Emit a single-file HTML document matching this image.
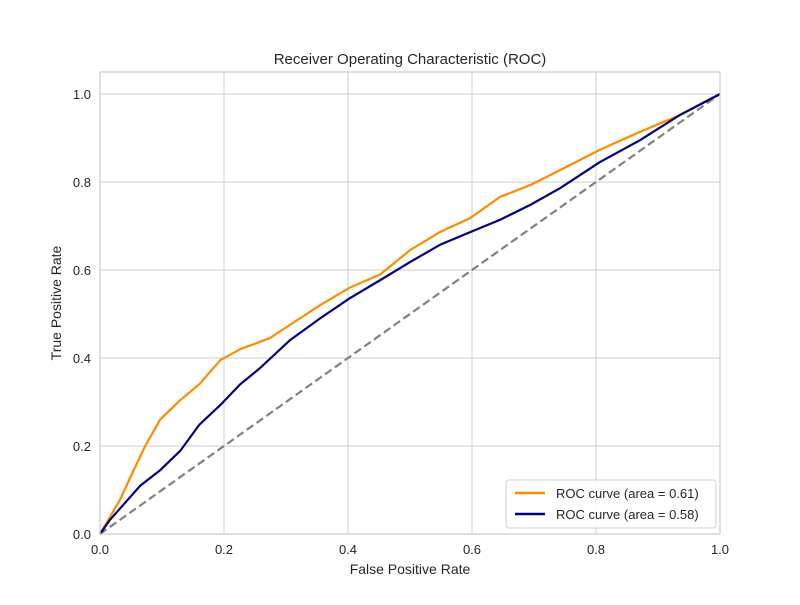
<!DOCTYPE html>
<html><head><meta charset="utf-8"><style>
body{margin:0;background:#fff;}
svg text{font-family:"Liberation Sans",Arial,sans-serif;fill:#262626;}
</style></head><body>
<svg width="800" height="600" xmlns="http://www.w3.org/2000/svg">
<rect x="0" y="0" width="800" height="600" fill="#fff"/>
<g id="grid"></g>
<g id="series"></g>
<rect x="100" y="72" width="620" height="462" fill="none" stroke="#cccccc" stroke-width="1.2"/>
<g id="ticks"></g>
<text x="410" y="64" font-size="15" text-anchor="middle">Receiver Operating Characteristic (ROC)</text>
<text x="410" y="574" font-size="14" text-anchor="middle">False Positive Rate</text>
<text transform="translate(61,303) rotate(-90)" font-size="14" text-anchor="middle">True Positive Rate</text>
<g>
<rect x="506" y="480" width="210" height="48" rx="3" fill="#fff" fill-opacity="0.8" stroke="#d0d0d0"/>
<line x1="515" y1="493" x2="545" y2="493" stroke="darkorange" stroke-width="2.5"/>
<text x="556" y="498" font-size="13">ROC curve (area = 0.61)</text>
<line x1="515" y1="514" x2="545" y2="514" stroke="navy" stroke-width="2.5"/>
<text x="556" y="519" font-size="13">ROC curve (area = 0.58)</text>
</g>
</svg>
<script>
const ticks=[0,0.2,0.4,0.6,0.8,1.0];
const tickLabels=["0.0","0.2","0.4","0.6","0.8","1.0"];
const orangeFpr=[0,0.032,0.056,0.073,0.097,0.13,0.16,0.194,0.226,0.274,0.306,0.355,0.403,0.452,0.5,0.548,0.597,0.645,0.694,0.742,0.806,0.871,0.935,1];
const orangeTpr=[0,0.077,0.15,0.2,0.26,0.305,0.34,0.395,0.42,0.445,0.475,0.52,0.56,0.59,0.645,0.686,0.718,0.766,0.793,0.827,0.873,0.914,0.952,1];
const navyFpr=[0,0.016,0.065,0.097,0.13,0.16,0.194,0.226,0.258,0.306,0.355,0.403,0.452,0.5,0.548,0.597,0.645,0.694,0.742,0.806,0.871,0.935,1];
const navyTpr=[0,0.032,0.11,0.145,0.19,0.248,0.293,0.34,0.377,0.44,0.49,0.536,0.577,0.618,0.657,0.686,0.714,0.748,0.786,0.845,0.895,0.952,1];
const NS="http://www.w3.org/2000/svg";
const xs=v=>100+v*620, ys=v=>534-v*440;
const grid=document.getElementById('grid'),tk=document.getElementById('ticks'),se=document.getElementById('series');
function mk(tag,attrs,parent){const e=document.createElementNS(NS,tag);for(const k in attrs)e.setAttribute(k,attrs[k]);parent.appendChild(e);return e;}
ticks.forEach((t,i)=>{
 const gx=mk('line',{x1:xs(t),x2:xs(t),y1:72,y2:534,stroke:'#cccccc','stroke-width':1},grid);
 
 
 const gy=mk('line',{x1:100,x2:720,y1:ys(t),y2:ys(t),stroke:'#cccccc','stroke-width':1},grid);
 
 
 const tx=mk('text',{x:xs(t),y:554,'font-size':13,'text-anchor':'middle'},tk);tx.textContent=tickLabels[i];
 
 
 const ty=mk('text',{x:91,y:ys(t)+5,'font-size':13,'text-anchor':'end'},tk);ty.textContent=tickLabels[i];
 
 
});
const d=mk('line',{x1:xs(0),y1:ys(0),x2:xs(1),y2:ys(1),stroke:'gray','stroke-width':2.2,'stroke-dasharray':'8,4'},se);


function curve(fx,fy,color,name){
 const p=mk('polyline',{points:fx.map((v,i)=>xs(v)+','+ys(fy[i])).join(' '),fill:'none',stroke:color,'stroke-width':2.2,'stroke-linejoin':'round'},se);
 
 
}
curve(orangeFpr,orangeTpr,'darkorange','roc-curve-orange');
curve(navyFpr,navyTpr,'navy','roc-curve-navy');
</script>
</body></html>
